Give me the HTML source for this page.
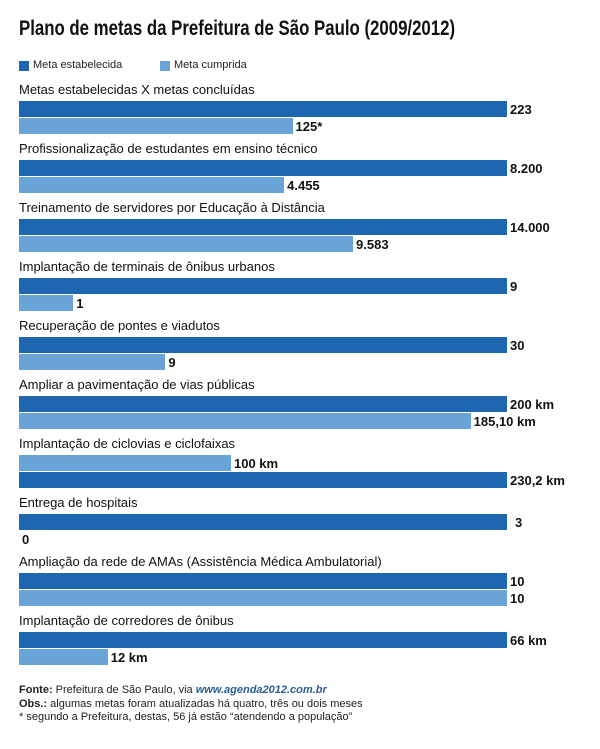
<!DOCTYPE html>
<html><head><meta charset="utf-8"><style>
body{margin:0;width:600px;height:749px;background:#fff;font-family:"Liberation Sans",sans-serif;overflow:hidden;position:relative}
.t{position:absolute;white-space:nowrap}
#title{left:19px;top:17px;font-size:21px;font-weight:bold;transform:scaleX(0.8);transform-origin:left top;color:#111}
.lab{font-size:13px;color:#111}
.val{font-size:13px;font-weight:bold;color:#111}
.bar{position:absolute;height:16px}
.foot{font-size:11px;color:#222;left:19px}
</style></head><body>
<div class="t" id="title">Plano de metas da Prefeitura de São Paulo (2009/2012)</div>
<div>
<div class="bar" style="left:19px;top:61px;width:10px;height:10px;background:#1f66b0"></div>
<div class="t" style="left:33px;top:59px;font-size:11px;color:#222">Meta estabelecida</div>
<div class="bar" style="left:160px;top:61px;width:10px;height:10px;background:#6aa3d8"></div>
<div class="t" style="left:174px;top:59px;font-size:11px;color:#222">Meta cumprida</div>
</div>
<div id="chart"></div>
<div class="t foot" style="top:684px"><b>Fonte:</b> Prefeitura de São Paulo, via <b style="color:#2a5d96;font-style:italic">www.agenda2012.com.br</b></div>
<div class="t foot" style="top:698px"><b>Obs.:</b> algumas metas foram atualizadas há quatro, três ou dois meses</div>
<div class="t foot" style="top:711px">* segundo a Prefeitura, destas, 56 já estão “atendendo a população”</div>
<script>
const categories=["Metas estabelecidas X metas concluídas","Profissionalização de estudantes em ensino técnico","Treinamento de servidores por Educação à Distância","Implantação de terminais de ônibus urbanos","Recuperação de pontes e viadutos","Ampliar a pavimentação de vias públicas","Implantação de ciclovias e ciclofaixas","Entrega de hospitais","Ampliação da rede de AMAs (Assistência Médica Ambulatorial)","Implantação de corredores de ônibus"];
const established=[223,8200,14000,9,30,200,230.2,3,10,66];
const completed=[125,4455,9583,1,9,185.1,100,0,10,12];
const establishedLabels=["223","8.200","14.000","9","30","200 km","230,2 km","3","10","66 km"];
const completedLabels=["125*","4.455","9.583","1","9","185,10 km","100 km","0","10","12 km"];
const swapped=[false,false,false,false,false,false,true,false,false,false];
const chart=document.getElementById('chart');
const x0=19,fullW=488,groupTop=82,groupStep=59;
function xs(v,max){return max>0?v/max*fullW:0;}
categories.forEach((c,i)=>{
  const top=groupTop+i*groupStep;
  const max=Math.max(established[i],completed[i]);
  const l=document.createElement('div');l.className='t lab';l.style.left=x0+'px';l.style.top=top+'px';l.textContent=c;
  
  
  chart.appendChild(l);
  const rows=swapped[i]?[['c',completed[i],completedLabels[i]],['e',established[i],establishedLabels[i]]]:[['e',established[i],establishedLabels[i]],['c',completed[i],completedLabels[i]]];
  rows.forEach((r,j)=>{
    const y=top+19+j*17;const w=xs(r[1],max);
    const b=document.createElement('div');b.className='bar';b.style.left=x0+'px';b.style.top=y+'px';b.style.width=w+'px';b.style.background=r[0]==='e'?'#1f66b0':'#6aa3d8';
    
    
    chart.appendChild(b);
    const v=document.createElement('div');v.className='t val';v.style.left=(x0+w+(i===7&&r[0]==='e'?8:3))+'px';v.style.top=(y+1)+'px';v.textContent=r[2];
    
    
    chart.appendChild(v);
  });
});
</script>
</body></html>
